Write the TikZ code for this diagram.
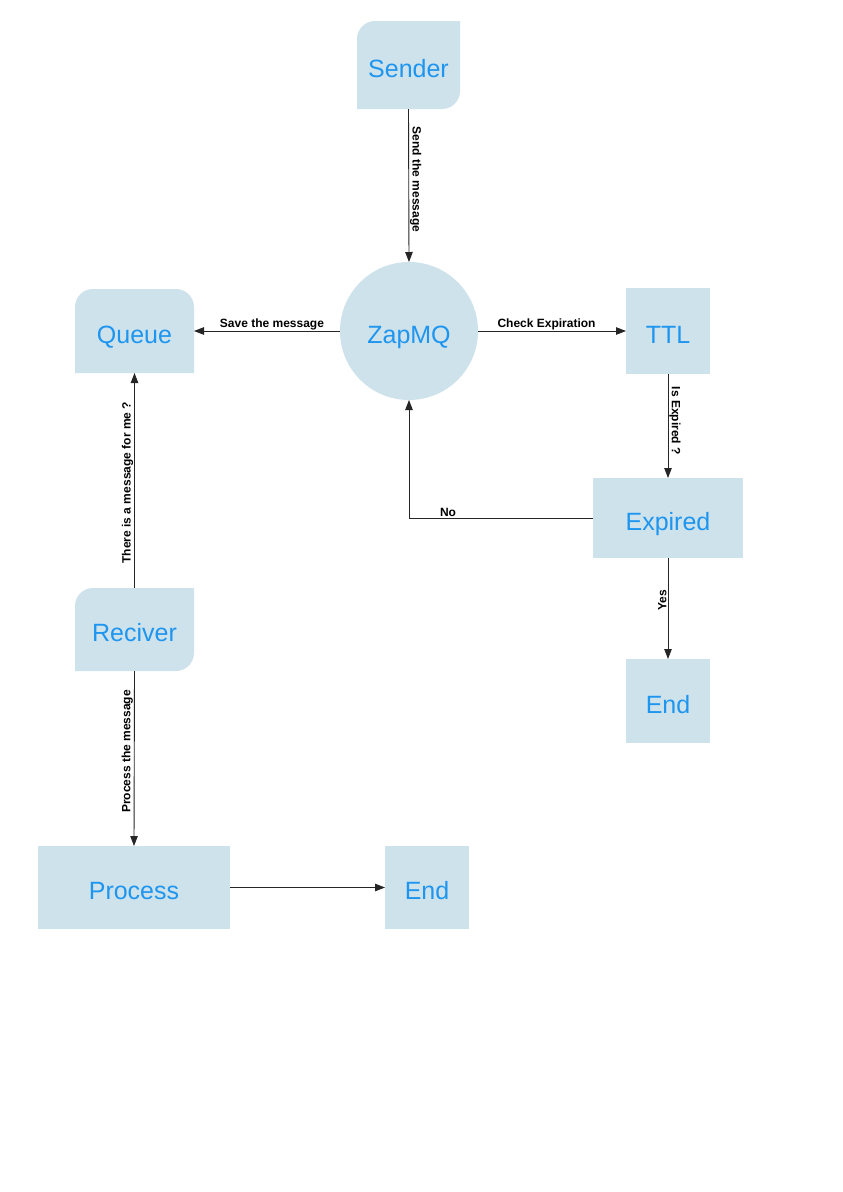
\documentclass[tikz,border=0pt]{standalone}
\usepackage{fontspec}
\setmainfont{Liberation Sans}
\usetikzlibrary{arrows.meta,backgrounds}
\definecolor{boxfill}{HTML}{CEE2EC}
\definecolor{boxtext}{HTML}{1E95EE}
\tikzset{
  lbl/.style={font=\fontsize{25}{30}\selectfont, text=boxtext, inner sep=0pt, outer sep=0pt, text height=24pt, text depth=0pt},
  box/.style={lbl, rectangle, fill=boxfill},
  bare/.style={lbl, rectangle},
  zapnode/.style={lbl, circle, fill=boxfill, minimum size=138pt},
  conn/.style={draw=black!85, line width=0.9pt, -{Triangle[length=10pt,width=7.5pt]}},
  elbl/.style={font=\fontsize{12}{14}\selectfont\bfseries, text=black, inner sep=1pt, anchor=south},
}
\begin{document}
\begin{tikzpicture}[x=1pt,y=1pt]
\useasboundingbox (0,0) rectangle (843,-1192);
% nodes
\node[bare, minimum width=103pt, minimum height=88pt] (sender) at (408.5,-65) {Sender};
\node[zapnode] (zap) at (409,-331) {ZapMQ};
\node[bare, minimum width=119pt, minimum height=84pt] (queue) at (134.5,-331) {Queue};
\node[box, minimum width=84pt, minimum height=86pt] (ttl) at (668,-331) {TTL};
\node[box, minimum width=150pt, minimum height=80pt] (expired) at (668,-518) {Expired};
\node[box, minimum width=84pt, minimum height=84pt] (end1) at (668,-701) {End};
\node[bare, minimum width=119pt, minimum height=83pt] (reciver) at (134.5,-629.5) {Reciver};
\node[box, minimum width=192pt, minimum height=83pt] (process) at (134,-887.5) {Process};
\node[box, minimum width=84pt, minimum height=83pt] (end2) at (427,-887.5) {End};
% custom shaped fills
\begin{scope}[on background layer]
  \fill[white] (0,0) rectangle (843,-1192);
  \fill[boxfill] ([yshift=-18pt]sender.north west) arc[start angle=180,end angle=90,radius=18pt]
     -- (sender.north east) -- ([yshift=18pt]sender.south east) arc[start angle=0,end angle=-90,radius=18pt]
     -- (sender.south west) -- cycle;
  \fill[boxfill] ([yshift=-18pt]queue.north west) arc[start angle=180,end angle=90,radius=18pt]
     -- ([xshift=-18pt]queue.north east) arc[start angle=90,end angle=0,radius=18pt]
     -- (queue.south east) -- (queue.south west) -- cycle;
  \fill[boxfill] ([yshift=-18pt]reciver.north west) arc[start angle=180,end angle=90,radius=18pt]
     -- (reciver.north east) -- ([yshift=18pt]reciver.south east) arc[start angle=0,end angle=-90,radius=18pt]
     -- (reciver.south west) -- cycle;
\end{scope}
% connectors
\draw[conn] (sender.south) -- node[elbl, pos=0.46, rotate=-90] {Send the message} (zap.north);
\draw[conn] (zap.west) -- node[elbl, pos=0.466] {Save the message} (queue.east);
\draw[conn] (zap.east) -- node[elbl, pos=0.463] {Check Expiration} (ttl.west);
\draw[conn] (ttl.south) -- node[elbl, pos=0.45, rotate=-90] {Is Expired ?} (expired.north);
\draw[conn] (expired.south) -- node[elbl, pos=0.42, rotate=90] {Yes} (end1.north);
\draw[conn] (expired.west) -| node[elbl, pos=0.394] {No} (zap.south);
\draw[conn] (reciver.north) -- node[elbl, pos=0.49, rotate=90] {There is a message for me ?} (queue.south);
\draw[conn] (reciver.south) -- node[elbl, pos=0.46, rotate=90] {Process the message} (process.north);
\draw[conn] (process.east) -- (end2.west);
\end{tikzpicture}
\end{document}
